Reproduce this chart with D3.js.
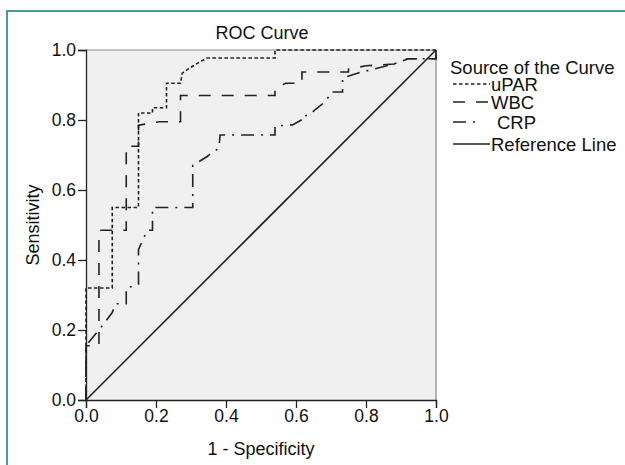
<!DOCTYPE html>
<html><head><meta charset="utf-8">
<script src="https://cdn.jsdelivr.net/npm/d3@7"></script>
<style>body{margin:0;background:#fff}svg{display:block}text{font-family:"Liberation Sans",Arial,sans-serif;fill:#111}</style>
</head><body><svg id="c" width="625" height="465"></svg>
<script>
const title = "ROC Curve";
const xLabel = "1 - Specificity";
const yLabel = "Sensitivity";
const legendTitle = "Source of the Curve";
const seriesNames = ["uPAR", "WBC", "CRP", "Reference Line"];
const xTicks = [0, 0.2, 0.4, 0.6, 0.8, 1.0];
const yTicks = [0, 0.2, 0.4, 0.6, 0.8, 1.0];

const uparFpr = [0, 0, 0.075, 0.075, 0.15, 0.15, 0.19, 0.19, 0.23, 0.23, 0.27, 0.275, 0.297, 0.32, 0.345, 0.54, 0.54, 1];
const uparTpr = [0, 0.32, 0.32, 0.55, 0.55, 0.82, 0.82, 0.835, 0.835, 0.905, 0.905, 0.934, 0.949, 0.963, 0.977, 0.977, 1, 1];

const wbcFpr = [0, 0, 0.037, 0.037, 0.115, 0.115, 0.15, 0.15, 0.21, 0.27, 0.27, 0.54, 0.54, 0.57, 0.617, 0.617, 0.75, 0.75, 0.80, 0.88, 0.92, 1, 1];
const wbcTpr = [0, 0.155, 0.155, 0.485, 0.485, 0.725, 0.725, 0.785, 0.795, 0.795, 0.87, 0.87, 0.89, 0.905, 0.905, 0.937, 0.937, 0.945, 0.955, 0.96, 0.975, 0.975, 1];

const crpFpr = [0, 0, 0.037, 0.075, 0.085, 0.115, 0.115, 0.15, 0.15, 0.175, 0.19, 0.19, 0.305, 0.305, 0.345, 0.38, 0.383, 0.54, 0.54, 0.59, 0.615, 0.615, 0.64, 0.655, 0.686, 0.70, 0.733, 0.733, 0.78, 0.88, 0.92, 1, 1];
const crpTpr = [0, 0.155, 0.2, 0.25, 0.275, 0.275, 0.32, 0.33, 0.43, 0.485, 0.485, 0.55, 0.55, 0.67, 0.695, 0.72, 0.757, 0.757, 0.783, 0.786, 0.80, 0.81, 0.815, 0.83, 0.854, 0.88, 0.88, 0.92, 0.935, 0.96, 0.975, 0.975, 1];

const refFpr = [0, 1];
const refTpr = [0, 1];

const svg = d3.select("#c");
svg.append("rect").attr("x", 7).attr("y", 11).attr("width", 640).attr("height", 480)
  .attr("fill", "#fff").attr("stroke", "#4f979b").attr("stroke-width", 2);

const x = d3.scaleLinear().domain([0, 1]).range([86, 436]);
const y = d3.scaleLinear().domain([0, 1]).range([400, 50]);

svg.append("rect").attr("x", x(0)).attr("y", y(1)).attr("width", x(1) - x(0)).attr("height", y(0) - y(1))
  .attr("fill", "#f0f0f0");
svg.append("path").attr("d", `M${x(0)},${y(1)}H${x(1)}V${y(0)}`).attr("fill", "none").attr("stroke", "#8a8a8a").attr("stroke-width", 1.2);

const fmt = d3.format(".1f");
const xAxis = svg.append("g").attr("transform", `translate(0,${y(0)})`)
  .call(d3.axisBottom(x).tickValues(xTicks).tickFormat(fmt).tickSize(8).tickPadding(2));
const yAxis = svg.append("g").attr("transform", `translate(${x(0)},0)`)
  .call(d3.axisLeft(y).tickValues(yTicks).tickFormat(fmt).tickSize(8).tickPadding(2));
[xAxis, yAxis].forEach(a => {
  a.selectAll("path").attr("stroke", "#222").attr("stroke-width", 1.3);
  a.selectAll("line").attr("stroke", "#222").attr("stroke-width", 1.3);
  a.selectAll("text").style("font-size", "17.5px").style("font-family", '"Liberation Sans",Arial,sans-serif').attr("fill", "#111");
});

const styles = [
  {dash: "3.5,2.5"},
  {dash: "12,11"},
  {dash: "13,7,2,7"},
  {dash: null}
];
const series = [
  [uparFpr, uparTpr],
  [wbcFpr, wbcTpr],
  [crpFpr, crpTpr],
  [refFpr, refTpr]
];
const line = d3.line().x(d => x(d[0])).y(d => y(d[1]));
series.forEach((s, i) => {
  const pts = s[0].map((v, j) => [v, s[1][j]]);
  svg.append("path").attr("d", line(pts)).attr("fill", "none")
    .attr("stroke", "#222").attr("stroke-width", 1.6)
    .attr("stroke-dasharray", styles[i].dash);
});

svg.append("text").attr("x", 262).attr("y", 33).attr("text-anchor", "middle").attr("dominant-baseline", "central")
  .style("font-size", "18px").text(title);
svg.append("text").attr("x", 261).attr("y", 449).attr("text-anchor", "middle").attr("dominant-baseline", "central")
  .style("font-size", "18px").text(xLabel);
svg.append("text").attr("transform", "translate(33,225) rotate(-90)").attr("text-anchor", "middle").attr("dominant-baseline", "central")
  .style("font-size", "18px").text(yLabel);

svg.append("text").attr("x", 450).attr("y", 67).attr("dominant-baseline", "central")
  .style("font-size", "18.5px").text(legendTitle);
const legY = [84, 102, 122, 144];
const legTextX = [491, 491, 497, 491];
const legLineEnd = [490, 490, 482, 490];
seriesNames.forEach((n, i) => {
  const g = svg.append("g");
  g.append("line").attr("x1", 453).attr("x2", legLineEnd[i]).attr("y1", legY[i]).attr("y2", legY[i])
    .attr("stroke", "#222").attr("stroke-width", 1.6).attr("stroke-dasharray", styles[i].dash);
  g.append("text").attr("x", legTextX[i]).attr("y", legY[i]).attr("dominant-baseline", "central")
    .style("font-size", "18.5px").text(n);
});
</script></body></html>
